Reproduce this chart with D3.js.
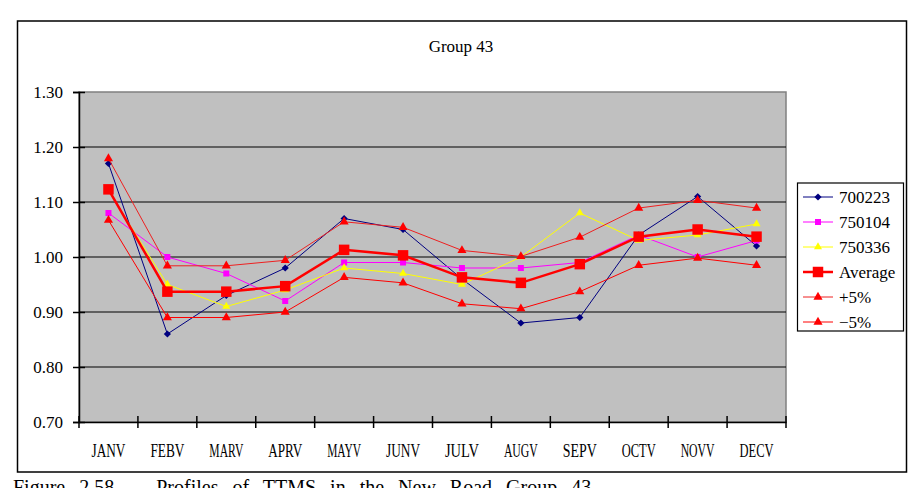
<!DOCTYPE html>
<html>
<head>
<meta charset="utf-8">
<script src="https://cdn.jsdelivr.net/npm/d3@7"></script>
<style>
body { margin: 0; background: #fff; overflow: hidden; }
svg text { font-family: "Liberation Serif", "DejaVu Serif", "Times New Roman", serif; }
</style>
</head>
<body>
<script>
//Données
var mois = ["JANV", "FEBV", "MARV", "APRV", "MAYV", "JUNV", "JULV", "AUGV", "SEPV", "OCTV", "NOVV", "DECV"];
var s700223 = [1.17, 0.86, 0.93, 0.98, 1.07, 1.05, 0.96, 0.88, 0.89, 1.04, 1.11, 1.02];
var s750104 = [1.08, 1.00, 0.97, 0.92, 0.99, 0.99, 0.98, 0.98, 0.99, 1.04, 1.00, 1.03];
var s750336 = [1.12, 0.95, 0.91, 0.94, 0.98, 0.97, 0.95, 1.00, 1.08, 1.03, 1.04, 1.06];
var moyenne = [1.123, 0.937, 0.937, 0.947, 1.013, 1.003, 0.963, 0.953, 0.987, 1.037, 1.050, 1.037];
var plus5 = [1.179, 0.984, 0.984, 0.994, 1.064, 1.054, 1.012, 1.001, 1.036, 1.089, 1.103, 1.089];
var moins5 = [1.067, 0.890, 0.890, 0.900, 0.963, 0.953, 0.915, 0.906, 0.937, 0.985, 0.998, 0.985];
var yTicks = [0.70, 0.80, 0.90, 1.00, 1.10, 1.20, 1.30];
var titre = "Group 43";
var legende = "Figure 2.58   Profiles of TTMS in the New Road Group 43";

var larg = 922;
var haut = 488;
var gauche = 79, droite = 786, hautZone = 92, basZone = 422;

//Séries (style par série)
var series = [
	{nom: "700223", val: s700223, coul: "#000080", ep: 1, sym: "diamond", taille: 26, mcoul: "#000080"},
	{nom: "750104", val: s750104, coul: "#ff00ff", ep: 1, sym: "square", taille: 36, mcoul: "#ff00ff"},
	{nom: "750336", val: s750336, coul: "#ffff00", ep: 1, sym: "triangle", taille: 28, mcoul: "#ffff00"},
	{nom: "Average", val: moyenne, coul: "#ff0000", ep: 2.5, sym: "square", taille: 110, mcoul: "#ff0000"},
	{nom: "+5%", val: plus5, coul: "#ee2020", ep: 1, sym: "triangle", taille: 36, mcoul: "#ff0000"},
	{nom: "\u22125%", val: moins5, coul: "#ff0000", ep: 1, sym: "triangle", taille: 36, mcoul: "#ff0000"}
];

var svg = d3.select("body")
	.append("svg")
	.attr("width", larg)
	.attr("height", haut);

//Cadre extérieur
svg.append("rect")
	.attr("x", 17.5).attr("y", 21)
	.attr("width", 889).attr("height", 451)
	.attr("fill", "#fff")
	.attr("stroke", "#000")
	.attr("stroke-width", 1.5);

var x = d3.scaleBand()
	.domain(mois)
	.range([gauche, droite]);

var y = d3.scaleLinear()
	.domain([0.7, 1.3])
	.range([basZone, hautZone]);

function cx(d, i) { return x(mois[i]) + x.bandwidth() / 2; }

//Zone de tracé
svg.append("rect")
	.attr("x", gauche).attr("y", hautZone)
	.attr("width", droite - gauche).attr("height", basZone - hautZone)
	.attr("fill", "#c0c0c0")
	.attr("stroke", "#808080")
	.attr("stroke-width", 1.5);

//Quadrillage
svg.append("g")
	.selectAll("line")
	.data(yTicks.slice(1, -1))
	.enter()
	.append("line")
	.attr("x1", gauche).attr("x2", droite)
	.attr("y1", function(d) { return y(d); })
	.attr("y2", function(d) { return y(d); })
	.attr("stroke", "#000")
	.attr("stroke-width", 1.2);

//Axe Y
var axeY = svg.append("g")
	.attr("transform", "translate(" + gauche + ",0)")
	.call(d3.axisLeft(y).tickValues(yTicks).tickFormat(d3.format(".2f")).tickSize(6));
axeY.select(".domain").attr("stroke", "#000").attr("stroke-width", 1.5);
axeY.selectAll(".tick line").attr("x2", 6).attr("x1", -6).attr("stroke-width", 1.5);
axeY.selectAll("text")
	.attr("x", -16)
	.attr("font-family", null)
	.attr("font-size", "17px")
	.attr("fill", "#000");

//Axe X
var axeX = svg.append("g")
	.attr("transform", "translate(0," + basZone + ")")
	.call(d3.axisBottom(x).tickSize(0).tickPadding(22));
axeX.select(".domain").attr("stroke", "#000").attr("stroke-width", 1.5);
axeX.selectAll("text")
	.attr("font-family", null)
	.attr("font-size", "19px")
	.attr("textLength", 34)
	.attr("lengthAdjust", "spacingAndGlyphs")
	.attr("fill", "#000");

//Graduations X aux limites des catégories
var bords = mois.map(function(m) { return x(m); }).concat([droite]);
axeX.selectAll(".bord")
	.data(bords)
	.enter()
	.append("line")
	.attr("class", "bord")
	.attr("x1", function(d) { return d; })
	.attr("x2", function(d) { return d; })
	.attr("y1", -6).attr("y2", 6)
	.attr("stroke", "#000")
	.attr("stroke-width", 1.5);

function symbole(s) {
	if (s == "triangle") return d3.symbolTriangle;
	return d3.symbolSquare;
}

//Lignes et marqueurs
var ligne = d3.line()
	.x(cx)
	.y(function(d) { return y(d); });

series.forEach(function(s) {
	var g = svg.append("g");
	g.append("path")
		.attr("d", ligne(s.val))
		.attr("fill", "none")
		.attr("stroke", s.coul)
		.attr("stroke-width", s.ep);
	g.selectAll("path.m")
		.data(s.val)
		.enter()
		.append("path")
		.attr("class", "m")
		.attr("d", d3.symbol().type(symbole(s.sym)).size(s.taille))
		.attr("transform", function(d, i) {
			return "translate(" + cx(d, i) + "," + y(d) + ")" + (s.sym == "diamond" ? " rotate(45)" : "");
		})
		.attr("fill", s.mcoul);
});

//Légende
var leg = svg.append("g");
leg.append("rect")
	.attr("x", 797.5).attr("y", 183)
	.attr("width", 106).attr("height", 148)
	.attr("fill", "#fff")
	.attr("stroke", "#000")
	.attr("stroke-width", 1.2);

var items = leg.selectAll("g.it")
	.data(series)
	.enter()
	.append("g")
	.attr("class", "it")
	.attr("transform", function(d, i) { return "translate(0," + (197 + i * 25) + ")"; });
items.append("line")
	.attr("x1", 803).attr("x2", 833)
	.attr("stroke", function(d) { return d.coul; })
	.attr("stroke-width", function(d) { return d.ep; });
items.append("path")
	.attr("d", function(d) { return d3.symbol().type(symbole(d.sym)).size(d.taille)(); })
	.attr("transform", function(d) { return "translate(818,0)" + (d.sym == "diamond" ? " rotate(45)" : ""); })
	.attr("fill", function(d) { return d.mcoul; });
items.append("text")
	.text(function(d) { return d.nom; })
	.attr("x", 839)
	.attr("dy", "0.35em")
	.attr("font-size", "17px")
	.attr("fill", "#000");

//Titre
svg.append("text")
	.text(titre)
	.attr("x", 461).attr("y", 52)
	.attr("text-anchor", "middle")
	.attr("font-size", "17px")
	.attr("fill", "#000");

//Légende de figure (en bas, en partie coupée comme l'original)
svg.append("text")
	.text(legende)
	.attr("x", 13).attr("y", 494)
	.style("white-space", "pre")
	.attr("word-spacing", "9px")
	.attr("font-size", "20px")
	.attr("fill", "#000");
</script>
</body>
</html>
